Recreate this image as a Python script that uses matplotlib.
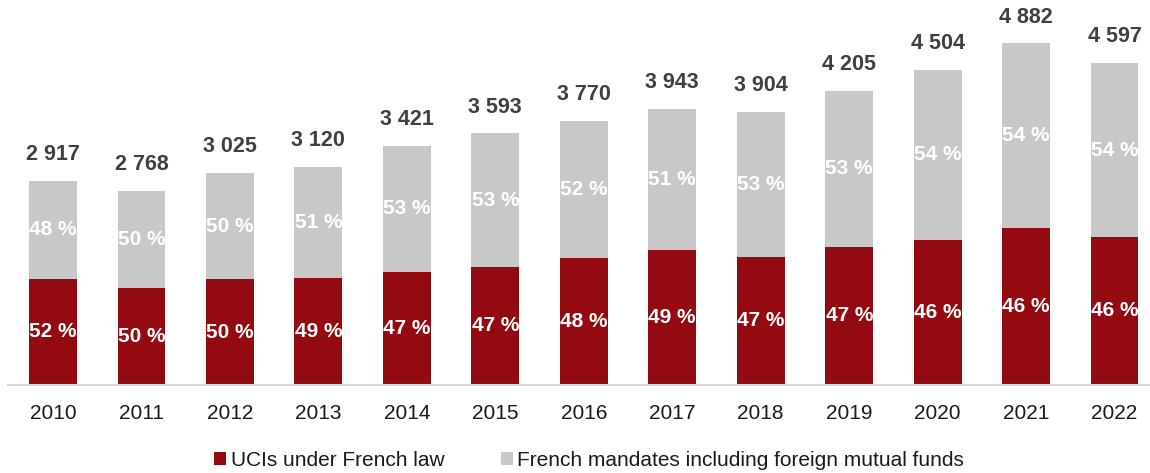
import matplotlib
matplotlib.use("Agg")
import matplotlib.pyplot as plt
from matplotlib.patches import Patch

plt.rcParams['font.family'] = ['Liberation Sans', 'DejaVu Sans']

years = ["2010", "2011", "2012", "2013", "2014", "2015", "2016",
         "2017", "2018", "2019", "2020", "2021", "2022"]
totals = [2917, 2768, 3025, 3120, 3421, 3593, 3770, 3943, 3904, 4205, 4504, 4882, 4597]
pct_french_law = [52, 50, 50, 49, 47, 47, 48, 49, 47, 47, 46, 46, 46]
pct_mandates = [48, 50, 50, 51, 53, 53, 52, 51, 53, 53, 54, 54, 54]

series_names = ["UCIs under French law", "French mandates including foreign mutual funds"]
red = "#930A10"
grey = "#C8C8C8"

french_law = [t * p / 100 for t, p in zip(totals, pct_french_law)]
mandates = [t - f for t, f in zip(totals, french_law)]

W, H = 1150, 473
fig = plt.figure(figsize=(W / 100, H / 100), dpi=100)
ax = fig.add_axes([8 / W, 88 / H, 1 - 8 / W, 385 / H])

x = list(range(len(years)))
bw = 0.54
ax.bar(x, french_law, width=bw, color=red, zorder=2)
ax.bar(x, mandates, width=bw, bottom=french_law, color=grey, zorder=2)

def fmt_thousands(v):
    return f"{v:,}".replace(",", " ")

for i in x:
    ax.text(i, french_law[i] / 2, f"{pct_french_law[i]} %", ha="center", va="center",
            color="white", fontsize=15, fontweight="bold", zorder=3)
    ax.text(i, french_law[i] + mandates[i] / 2, f"{pct_mandates[i]} %", ha="center",
            va="center", color="white", fontsize=15, fontweight="bold", zorder=3)
    ax.text(i, totals[i] + 375, fmt_thousands(totals[i]), ha="center", va="center",
            color="#404040", fontsize=15.5, fontweight="bold", zorder=3)

ax.set_xlim(-0.508, 12.4)
ax.set_ylim(0, 5500)
ax.set_xticks(x)
ax.set_xticklabels(years, fontsize=15, color="#1A1A1A")
ax.tick_params(axis="x", length=0, pad=14)
ax.set_yticks([])
for side in ["left", "right", "top"]:
    ax.spines[side].set_visible(False)
ax.spines["bottom"].set_color("#D9D9D9")
ax.spines["bottom"].set_linewidth(1.5)

handles = [Patch(facecolor=red, edgecolor="none"), Patch(facecolor=grey, edgecolor="none")]
fig.legend(handles, series_names, loc="center", bbox_to_anchor=(589 / W, 13 / H),
           ncol=2, frameon=False, fontsize=15, handlelength=0.58, handleheight=0.58,
           handletextpad=0.2, columnspacing=2.7, labelcolor="#1A1A1A")

fig.savefig("out.png", dpi=100)
